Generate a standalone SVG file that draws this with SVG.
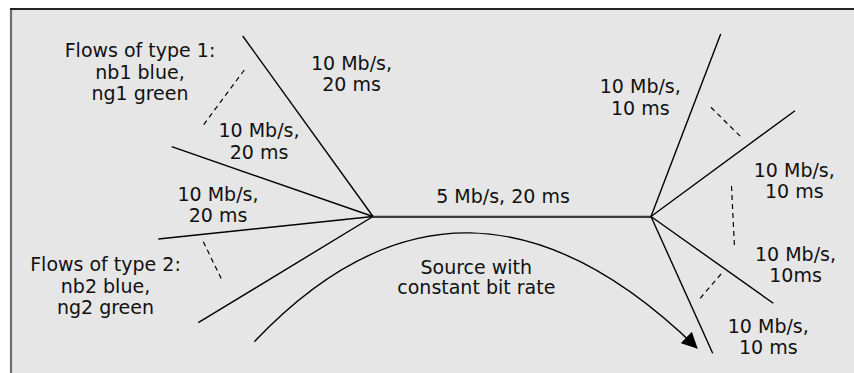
<svg xmlns="http://www.w3.org/2000/svg" width="854" height="373" viewBox="0 0 854 373">
  <defs>
    <style>
      .link { stroke: #000; stroke-width: 1.4; fill: none; }
      .trunk { stroke: #3a3a3a; stroke-width: 2.2; fill: none; }
      .dash { stroke: #000; stroke-width: 1.2; stroke-dasharray: 5 4; fill: none; }
      .lbl { font-family: "DejaVu Sans", "Liberation Sans", sans-serif; font-size: 19px; fill: #111; text-anchor: middle; }
    </style>
    <marker id="arrow" viewBox="0 0 16 16" refX="15" refY="8" markerWidth="16" markerHeight="16" markerUnits="userSpaceOnUse" orient="auto">
      <path d="M0,0 L16,8 L0,16 Z" fill="#000"/>
    </marker>
  </defs>

  <g id="frame">
    <rect x="11" y="9" width="843" height="364" fill="#e6e6e6"/>
    <line x1="11" y1="373" x2="11" y2="9" stroke="#6e6e6e" stroke-width="2.2"/>
    <line x1="10" y1="9" x2="854" y2="9" stroke="#222" stroke-width="1.8"/>
  </g>

  <g id="connectors">
    <line class="link" x1="242.7" y1="36" x2="373" y2="216.5"/>
    <line class="link" x1="171.7" y1="146.7" x2="373" y2="216.5"/>
    <line class="link" x1="158.3" y1="239" x2="373" y2="216.5"/>
    <line class="link" x1="198.3" y1="322.7" x2="373" y2="216.5"/>
    <line class="trunk" x1="373" y1="216.8" x2="651" y2="216.8"/>
    <line class="link" x1="651" y1="216.5" x2="720.7" y2="34"/>
    <line class="link" x1="651" y1="216.5" x2="795" y2="110.7"/>
    <line class="link" x1="651" y1="216.5" x2="773.3" y2="303.3"/>
    <line class="link" x1="651" y1="216.5" x2="712.7" y2="353.3"/>
    <line class="dash" x1="244.3" y1="70" x2="202.7" y2="126"/>
    <line class="dash" x1="203.3" y1="241.7" x2="222.7" y2="281.7"/>
    <line class="dash" x1="711" y1="107.3" x2="742.3" y2="138.3"/>
    <line class="dash" x1="731.5" y1="186" x2="734.5" y2="247"/>
    <line class="dash" x1="721" y1="274" x2="699.3" y2="299.3"/>
    <path class="link" d="M254.3,341.7 Q464,121 697,348" marker-end="url(#arrow)"/>
  </g>

  <g id="type1">
    <text class="lbl" x="140" y="57">Flows of type 1:</text>
    <text class="lbl" x="140" y="79">nb1 blue,</text>
    <text class="lbl" x="140" y="100">ng1 green</text>
  </g>
  <g id="type2">
    <text class="lbl" x="105.5" y="270.7">Flows of type 2:</text>
    <text class="lbl" x="105.5" y="292.5">nb2 blue,</text>
    <text class="lbl" x="105.5" y="313.5">ng2 green</text>
  </g>

  <g id="labels-left">
    <text class="lbl" x="351.5" y="70">10 Mb/s,</text>
    <text class="lbl" x="351.5" y="91">20 ms</text>
    <text class="lbl" x="259" y="137">10 Mb/s,</text>
    <text class="lbl" x="259" y="158.5">20 ms</text>
    <text class="lbl" x="218" y="200.7">10 Mb/s,</text>
    <text class="lbl" x="218" y="222.3">20 ms</text>
  </g>

  <g id="trunk-label">
    <text class="lbl" x="503" y="203.3">5 Mb/s, 20 ms</text>
  </g>

  <g id="source">
    <text class="lbl" x="476.3" y="274.3">Source with</text>
    <text class="lbl" x="476.3" y="294.3">constant bit rate</text>
  </g>

  <g id="labels-right">
    <text class="lbl" x="640.3" y="93.3">10 Mb/s,</text>
    <text class="lbl" x="640.3" y="115">10 ms</text>
    <text class="lbl" x="794.3" y="176.5">10 Mb/s,</text>
    <text class="lbl" x="794.3" y="197.5">10 ms</text>
    <text class="lbl" x="795.5" y="260.7">10 Mb/s,</text>
    <text class="lbl" x="795.5" y="281.7">10ms</text>
    <text class="lbl" x="768.3" y="333.3">10 Mb/s,</text>
    <text class="lbl" x="768.3" y="354">10 ms</text>
  </g>
</svg>
